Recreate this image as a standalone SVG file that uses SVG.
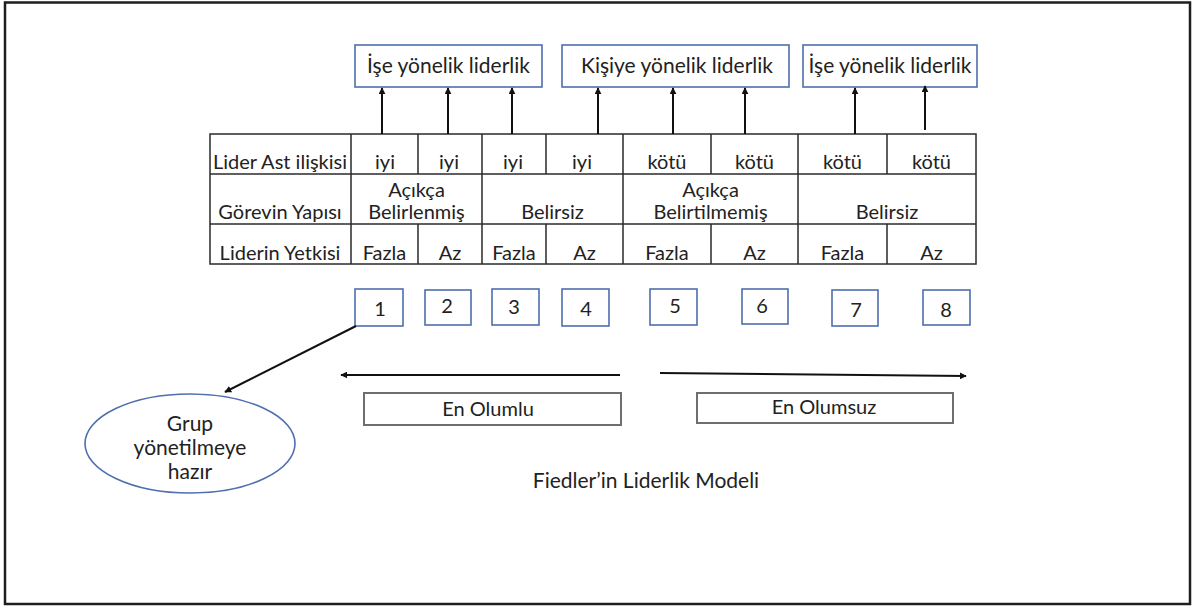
<svg xmlns="http://www.w3.org/2000/svg" width="1194" height="608" viewBox="0 0 1194 608">
  <style>
    .t { font-family: Lato, "Open Sans", "Liberation Sans", sans-serif; font-size: 20px; fill: #222; text-anchor: middle; }
    .big { font-size: 21px; }
    .grid { stroke: #2a2a2a; stroke-width: 1.5; fill: none; }
    .blue { fill: #fff; stroke: #4f6fae; stroke-width: 1.6; }
    .grey { fill: #fff; stroke: #6e6e6e; stroke-width: 2; }
    .arr { stroke: #111; stroke-width: 2; fill: none; }
  </style>
  <defs>
    <marker id="head" viewBox="0 0 10 10" refX="9" refY="5" markerWidth="3.5" markerHeight="3.5" orient="auto-start-reverse" markerUnits="strokeWidth">
      <path d="M0,0 L10,5 L0,10 z" fill="#111"/>
    </marker>
  </defs>

  <!-- outer frame -->
  <rect x="5" y="2.5" width="1185" height="601.5" fill="#fff" stroke="#1e1e1e" stroke-width="2.5"/>

  <!-- leadership style boxes -->
  <g id="task-1">
    <rect class="blue" x="355" y="45" width="187" height="42"/>
    <text class="t big" x="448.5" y="73">İşe yönelik liderlik</text>
  </g>
  <g id="person">
    <rect class="blue" x="562" y="45" width="227" height="42"/>
    <text class="t big" x="677" y="73">Kişiye yönelik liderlik</text>
  </g>
  <g id="task-2">
    <rect class="blue" x="803" y="45" width="174" height="42"/>
    <text class="t big" x="890" y="73">İşe yönelik liderlik</text>
  </g>

  <!-- situation table -->
  <g id="table">
    <rect class="grid" x="210" y="134" width="766" height="130"/>
    <line class="grid" x1="210" y1="174" x2="976" y2="174"/>
    <line class="grid" x1="210" y1="224" x2="976" y2="224"/>
    <!-- full-height column lines -->
    <path class="grid" d="M351,134 V264 M482,134 V264 M623,134 V264 M798,134 V264"/>
    <!-- column lines broken by the merged row -->
    <path class="grid" d="M418,134 V174 M546,134 V174 M711,134 V174 M887,134 V174 M418,224 V264 M546,224 V264 M711,224 V264 M887,224 V264"/>

    <text class="t" x="280" y="169">Lider Ast ilişkisi</text>
    <text class="t" x="385" y="169">iyi</text>
    <text class="t" x="449" y="169">iyi</text>
    <text class="t" x="513" y="169">iyi</text>
    <text class="t" x="582" y="169">iyi</text>
    <text class="t" x="667" y="169">kötü</text>
    <text class="t" x="754.5" y="169">kötü</text>
    <text class="t" x="842.5" y="169">kötü</text>
    <text class="t" x="931.5" y="169">kötü</text>

    <text class="t" x="280" y="219">Görevin Yapısı</text>
    <text class="t" x="416.5" y="197">Açıkça</text>
    <text class="t" x="416.5" y="219">Belirlenmiş</text>
    <text class="t" x="552.5" y="219">Belirsiz</text>
    <text class="t" x="710.5" y="197">Açıkça</text>
    <text class="t" x="710.5" y="219">Belirtilmemiş</text>
    <text class="t" x="887" y="219">Belirsiz</text>

    <text class="t" x="280" y="260">Liderin Yetkisi</text>
    <text class="t" x="384.5" y="260">Fazla</text>
    <text class="t" x="450" y="260">Az</text>
    <text class="t" x="514" y="260">Fazla</text>
    <text class="t" x="584.5" y="260">Az</text>
    <text class="t" x="667" y="260">Fazla</text>
    <text class="t" x="754.5" y="260">Az</text>
    <text class="t" x="842.5" y="260">Fazla</text>
    <text class="t" x="931.5" y="260">Az</text>
  </g>

  <!-- octant numbers -->
  <g id="n1"><rect class="blue" x="355" y="289" width="48" height="37"/><text class="t" x="380" y="316">1</text></g>
  <g id="n2"><rect class="blue" x="425" y="290" width="46" height="35"/><text class="t" x="447" y="313">2</text></g>
  <g id="n3"><rect class="blue" x="492" y="289" width="47" height="36"/><text class="t" x="514" y="314">3</text></g>
  <g id="n4"><rect class="blue" x="562" y="289" width="47" height="37"/><text class="t" x="586" y="316">4</text></g>
  <g id="n5"><rect class="blue" x="650" y="289" width="47" height="36"/><text class="t" x="675" y="313">5</text></g>
  <g id="n6"><rect class="blue" x="742" y="289" width="46" height="35"/><text class="t" x="762" y="313">6</text></g>
  <g id="n7"><rect class="blue" x="832" y="290" width="46" height="36"/><text class="t" x="856" y="317">7</text></g>
  <g id="n8"><rect class="blue" x="923" y="290" width="47" height="35"/><text class="t" x="946" y="317">8</text></g>

  <!-- favourability labels -->
  <g id="positive">
    <rect class="grey" x="364" y="393" width="257" height="32"/>
    <text class="t" x="488" y="416">En Olumlu</text>
  </g>
  <g id="negative">
    <rect class="grey" x="697" y="393" width="256" height="30"/>
    <text class="t" x="824" y="414">En Olumsuz</text>
  </g>

  <!-- readiness ellipse -->
  <g id="ready">
    <ellipse cx="190" cy="443.5" rx="105" ry="49.5" fill="#fff" stroke="#4f6fae" stroke-width="1.6"/>
    <text class="t big" x="190" y="431">Grup</text>
    <text class="t big" x="190" y="455">yönetilmeye</text>
    <text class="t big" x="190" y="479">hazır</text>
  </g>

  <!-- connectors -->
  <g id="connectors">
    <line class="arr" x1="382" y1="134" x2="382" y2="88" marker-end="url(#head)"/>
    <line class="arr" x1="448" y1="134" x2="448" y2="88" marker-end="url(#head)"/>
    <line class="arr" x1="512" y1="134" x2="512" y2="88" marker-end="url(#head)"/>
    <line class="arr" x1="598" y1="134" x2="598" y2="88" marker-end="url(#head)"/>
    <line class="arr" x1="673" y1="134" x2="673" y2="88" marker-end="url(#head)"/>
    <line class="arr" x1="745" y1="134" x2="745" y2="88" marker-end="url(#head)"/>
    <line class="arr" x1="855" y1="134" x2="855" y2="88" marker-end="url(#head)"/>
    <line class="arr" x1="925" y1="130" x2="925" y2="86" marker-end="url(#head)"/>
    <line class="arr" x1="356" y1="326" x2="225" y2="392" marker-end="url(#head)"/>
    <line class="arr" x1="620" y1="375" x2="341" y2="375" marker-end="url(#head)"/>
    <line class="arr" x1="660" y1="373" x2="966" y2="376" marker-end="url(#head)"/>
  </g>

  <text class="t big" x="646" y="488">Fiedler’in Liderlik Modeli</text>
</svg>
